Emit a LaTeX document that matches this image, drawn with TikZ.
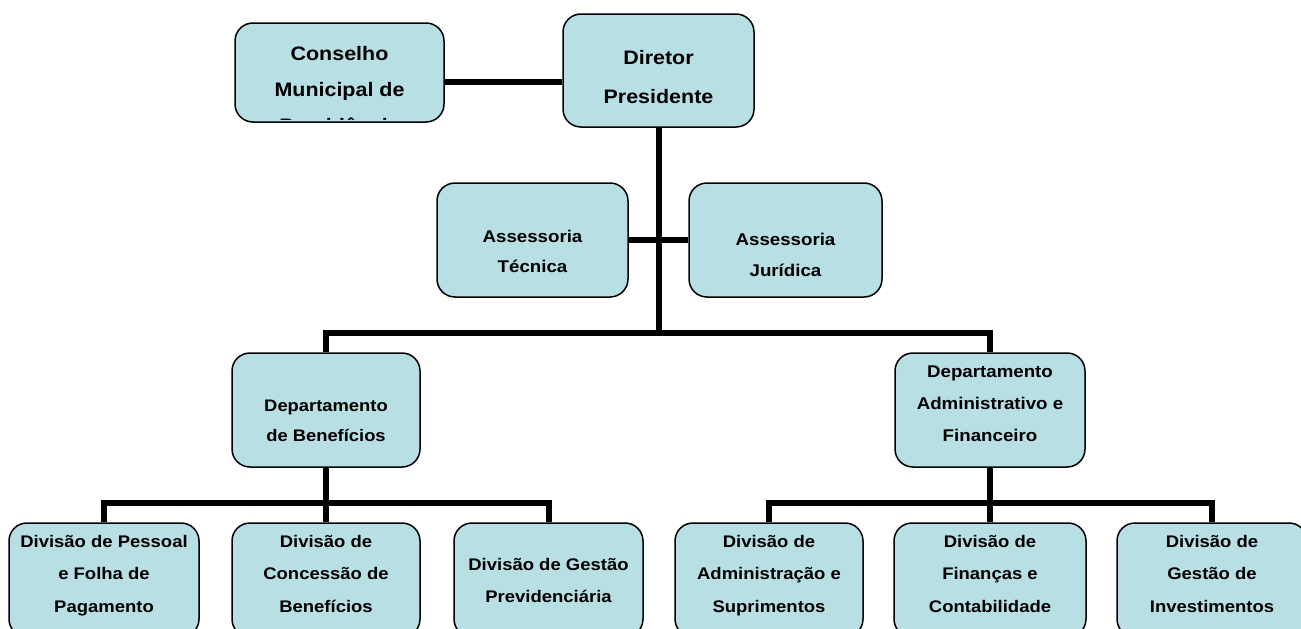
\documentclass[tikz,border=0pt]{standalone}
\usepackage{fontspec}
\setmainfont{Liberation Sans}[FakeStretch=1.1]
\definecolor{boxblue}{HTML}{B8DFE3}
\tikzset{
  box/.style={draw=black, line width=1.5pt, fill=boxblue, rounded corners=18pt, inner sep=0pt},
  lbl/.style={anchor=north, align=center, inner sep=0pt},
  conn/.style={line width=6pt, draw=black},
}
\newcommand{\fsz}[2]{\bfseries\fontsize{#1}{#2}\selectfont}
\begin{document}
\begin{tikzpicture}[x=1pt,y=-1pt]
\useasboundingbox (0,0) rectangle (1301,629);
\clip (0,0) rectangle (1301,629);

% boxes
\node[box, minimum width=209pt, minimum height=99pt] (cons) at (339.5,72.5) {};
\node[box, minimum width=191pt, minimum height=113pt] (dir) at (658.5,70.5) {};
\node[box, minimum width=191pt, minimum height=114pt] (at) at (532.5,240) {};
\node[box, minimum width=193pt, minimum height=114pt] (aj) at (785.5,240) {};
\node[box, minimum width=188pt, minimum height=114pt] (db) at (326,410) {};
\node[box, minimum width=190pt, minimum height=114pt] (da) at (990,410) {};
\node[box, minimum width=190pt, minimum height=114pt] (d1) at (104,580) {};
\node[box, minimum width=188pt, minimum height=114pt] (d2) at (326,580) {};
\node[box, minimum width=189pt, minimum height=114pt] (d3) at (548.5,580) {};
\node[box, minimum width=188pt, minimum height=114pt] (d4) at (769,580) {};
\node[box, minimum width=192pt, minimum height=114pt] (d5) at (990,580) {};
\node[box, minimum width=190pt, minimum height=114pt] (d6) at (1212,580) {};

% texts
\begin{scope}
  \clip (236,24) rectangle (443,119.5);
  \node[lbl, font=\fsz{19.5}{36}] (tcons) at (339.5,46) {Conselho\\Municipal de\\Previdência};
\end{scope}
\node[lbl, font=\fsz{19.5}{39}] (tdir) at (658.5,50) {Diretor\\Presidente};
\node[lbl, font=\fsz{17}{30}] (tat) at (532.5,230) {Assessoria\\Técnica};
\node[lbl, font=\fsz{17}{31}] (taj) at (785.5,233) {Assessoria\\Jurídica};
\node[lbl, font=\fsz{16.7}{30}] (tdb) at (326,399.5) {Departamento\\de Benefícios};
\node[lbl, font=\fsz{17}{32}] (tda) at (990,366) {Departamento\\Administrativo e\\Financeiro};
\node[lbl, font=\fsz{16.8}{32.5}] (td1) at (104,535) {Divisão de Pessoal\\e Folha de\\Pagamento};
\node[lbl, font=\fsz{16.8}{32.5}] (td2) at (326,535) {Divisão de\\Concessão de\\Benefícios};
\node[lbl, font=\fsz{16.8}{32.5}] (td3) at (548.5,558) {Divisão de Gestão\\Previdenciária};
\node[lbl, font=\fsz{16.8}{32.5}] (td4) at (769,535) {Divisão de\\Administração e\\Suprimentos};
\node[lbl, font=\fsz{16.8}{32.5}] (td5) at (990,535) {Divisão de\\Finanças e\\Contabilidade};
\node[lbl, font=\fsz{16.8}{32.5}] (td6) at (1212,535) {Divisão de\\Gestão de\\Investimentos};

% connectors
\coordinate (bus) at (658.5,333);
\coordinate (assr) at (658.5,240);
\coordinate (busL) at (326,503);
\coordinate (busR) at (990,503);
\draw[conn] (cons.east |- 0,82) -- (dir.west |- 0,82);
\draw[conn] (dir.south) -- (bus);
\draw[conn] (at.east) -- (assr);
\draw[conn] (aj.west) -- (assr);
\draw[conn] (db.north) |- (bus) -| (da.north);
\draw[conn] (db.south) -- (d2.north);
\draw[conn] (d1.north) |- (busL) -| (d3.north);
\draw[conn] (da.south) -- (d5.north);
\draw[conn] (d4.north) |- (busR) -| (d6.north);
\end{tikzpicture}
\end{document}
